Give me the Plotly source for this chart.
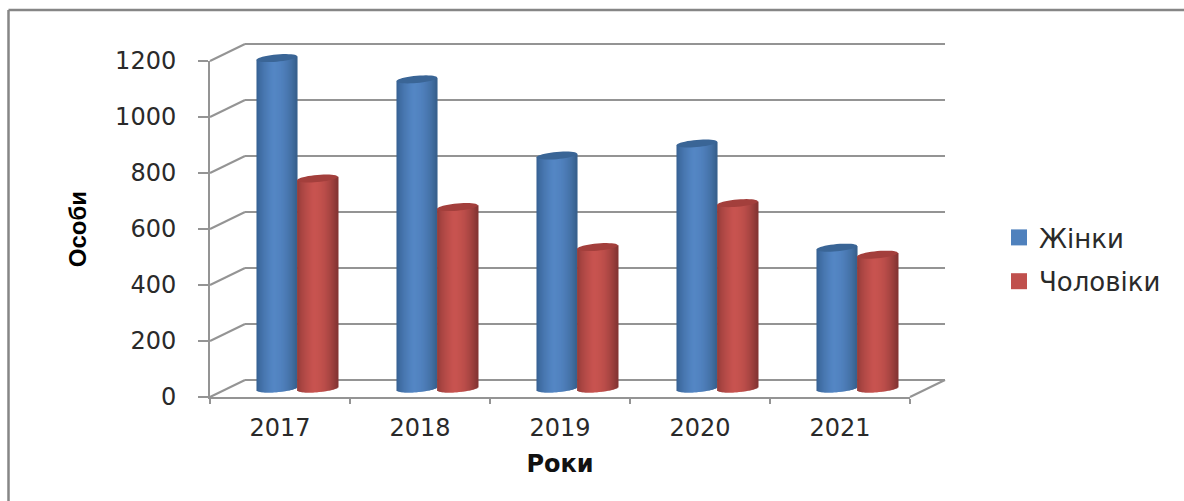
import numpy as np
import plotly.graph_objects as go

years = ["2017", "2018", "2019", "2020", "2021"]
women = [1180, 1104, 832, 875, 503]
men = [750, 648, 505, 662, 478]
y_ticks = [0, 200, 400, 600, 800, 1000, 1200]

W, H = 1184, 501
GRID = "#949494"
TXT = "#2a2a2a"
FX0, FX1, FY0, FY1 = 210, 910, 397, 61   # front plane (pixels)
DX, DY = 35, -17                          # depth of the box
UNIT_Y = (FY0 - FY1) / 1200
PAD = 40                                  # spare data units round the inner axes


def xdom(a, b):
    return [a / W, b / W]


def ydom(bottom, top):
    return [(H - bottom) / H, (H - top) / H]


def lerp(c1, c2, t):
    return "rgb(%d,%d,%d)" % tuple(round(a + (b - a) * t) for a, b in zip(c1, c2))


def shade(edge_l, mid, edge_r, u):
    peak = -0.2
    if u < peak:
        return lerp(edge_l, mid, ((u + 1) / (peak + 1)) ** 0.6)
    return lerp(mid, edge_r, ((u - peak) / (1 - peak)) ** 2)


fig = go.Figure()

for name, col in [("Жінки", "#4f81bd"), ("Чоловіки", "#c0504d")]:
    fig.add_trace(go.Scatter(x=[years[0]], y=[None], mode="markers", name=name,
                             legendgroup=name, xaxis="x", yaxis="y",
                             marker=dict(symbol="square", size=16, color=col)))
fig.add_trace(go.Scatter(x=[0], y=[None], mode="markers", showlegend=False,
                         xaxis="x2", yaxis="y2", hoverinfo="skip"))

N = 40
BW = 0.29
HALF_H = 3.6 / UNIT_Y
TILT = 1.8 / UNIT_Y
styles = [
    (women, -BW - 0.003, (50, 92, 140), (84, 134, 196), (55, 95, 140), (58, 101, 150)),
    (men, -0.003, (140, 56, 54), (200, 84, 80), (130, 52, 50), (163, 63, 60)),
]
shapes = []
for vals, off0, el, mid, er, topc in styles:
    for i in range(N):
        uc = -1 + (2 * i + 1) / N
        base = -HALF_H * np.sqrt(1 - uc ** 2) + TILT * uc
        tops = [v + TILT * uc for v in vals]
        wid = BW / N * (2 if i < N - 1 else 1)
        fig.add_trace(go.Bar(
            x=years, y=[t - base for t in tops], base=[base] * len(vals),
            width=wid, offset=off0 + BW * i / N,
            marker=dict(color=shade(el, mid, er, uc), line=dict(width=0)),
            showlegend=False, hoverinfo="skip", xaxis="x3", yaxis="y3"))
    for k, v in enumerate(vals):
        t = np.linspace(0, 2 * np.pi, 41)
        cx = k + off0 + BW / 2
        xs = cx + BW / 2 * np.cos(t)
        ys = v + HALF_H * np.sin(t) + TILT * np.cos(t)
        path = "M" + " L".join(f"{a:.4f},{b:.2f}" for a, b in zip(xs, ys)) + " Z"
        shapes.append(dict(type="path", path=path, xref="x3", yref="y3",
                           fillcolor=lerp(topc, topc, 0), line=dict(width=0), layer="above"))

for v in y_ticks:
    py = FY0 - v * UNIT_Y
    shapes.append(dict(type="line", xref="paper", yref="paper", layer="below",
                       x0=FX0 / W, x1=(FX0 + DX) / W,
                       y0=(H - py) / H, y1=(H - py - DY) / H,
                       line=dict(color=GRID, width=2)))
shapes.append(dict(type="line", xref="paper", yref="paper", layer="below",
                   x0=FX1 / W, x1=(FX1 + DX) / W, y0=(H - FY0) / H, y1=(H - FY0 - DY) / H,
                   line=dict(color=GRID, width=2)))
shapes.append(dict(type="line", xref="paper", yref="paper", x0=8.5 / W, x1=8.5 / W,
                   y0=0, y1=(H - 10) / H, line=dict(color="#868686", width=2.5)))
shapes.append(dict(type="line", xref="paper", yref="paper", x0=8.5 / W, x1=1,
                   y0=(H - 10) / H, y1=(H - 10) / H, line=dict(color="#868686", width=2.5)))

FONT = "DejaVu Sans"
fig.update_layout(
    width=W, height=H, margin=dict(l=0, r=0, t=0, b=0, autoexpand=False),
    paper_bgcolor="white", plot_bgcolor="rgba(0,0,0,0)",
    barmode="overlay", shapes=shapes,
    font=dict(family=FONT, color=TXT),
    legend=dict(x=999 / W, y=(H - 214) / H, xanchor="left", yanchor="top",
                font=dict(size=26, color=TXT, family=FONT), tracegroupgap=7,
                itemwidth=30, bgcolor="rgba(0,0,0,0)"),
    xaxis=dict(domain=xdom(FX0, FX1), type="category", categoryorder="array",
               categoryarray=years, range=[-0.5, 4.5], tickson="boundaries",
               ticks="outside", ticklen=5, tickwidth=2, tickcolor=GRID,
               showline=True, linecolor=GRID, linewidth=2, showgrid=False,
               tickfont=dict(size=24), anchor="y", ticklabelstandoff=8, automargin=False,
               title=dict(text="<b>Роки</b>", font=dict(size=24, family=FONT, color="#111111"),
                          standoff=14)),
    yaxis=dict(domain=ydom(FY0, FY1), range=[0, 1200], tickvals=y_ticks,
               ticks="outside", ticklen=10, tickwidth=2, tickcolor=GRID,
               showline=True, linecolor=GRID, linewidth=2, showgrid=False, zeroline=False,
               tickfont=dict(size=24), anchor="x", ticklabelstandoff=17, automargin=False,
               title=dict(text="<b>Особи</b>",
                          font=dict(size=24, family="Liberation Sans", color="#000000"),
                          standoff=22)),
    xaxis2=dict(domain=xdom(FX0 + DX, FX1 + DX), range=[0, 1], visible=False, anchor="y2"),
    yaxis2=dict(domain=ydom(FY0 + DY + PAD * UNIT_Y, FY1 + DY - PAD * UNIT_Y),
                range=[-PAD, 1200 + PAD], tickvals=y_ticks,
                showgrid=True, gridcolor=GRID, gridwidth=2, showticklabels=False, ticks="",
                zeroline=False, showline=False, anchor="x2"),
    xaxis3=dict(domain=xdom(FX0 + DX / 2, FX1 + DX / 2), type="category",
                categoryorder="array", categoryarray=years, range=[-0.5, 4.5],
                visible=False, anchor="y3"),
    yaxis3=dict(domain=ydom(FY0 + DY / 2 + PAD * UNIT_Y, FY1 + DY / 2 - PAD * UNIT_Y),
                range=[-PAD, 1200 + PAD], visible=False, anchor="x3"),
)

fig.write_html("out.html", config={"displayModeBar": False},
               post_script="document.body.style.margin='0';")
